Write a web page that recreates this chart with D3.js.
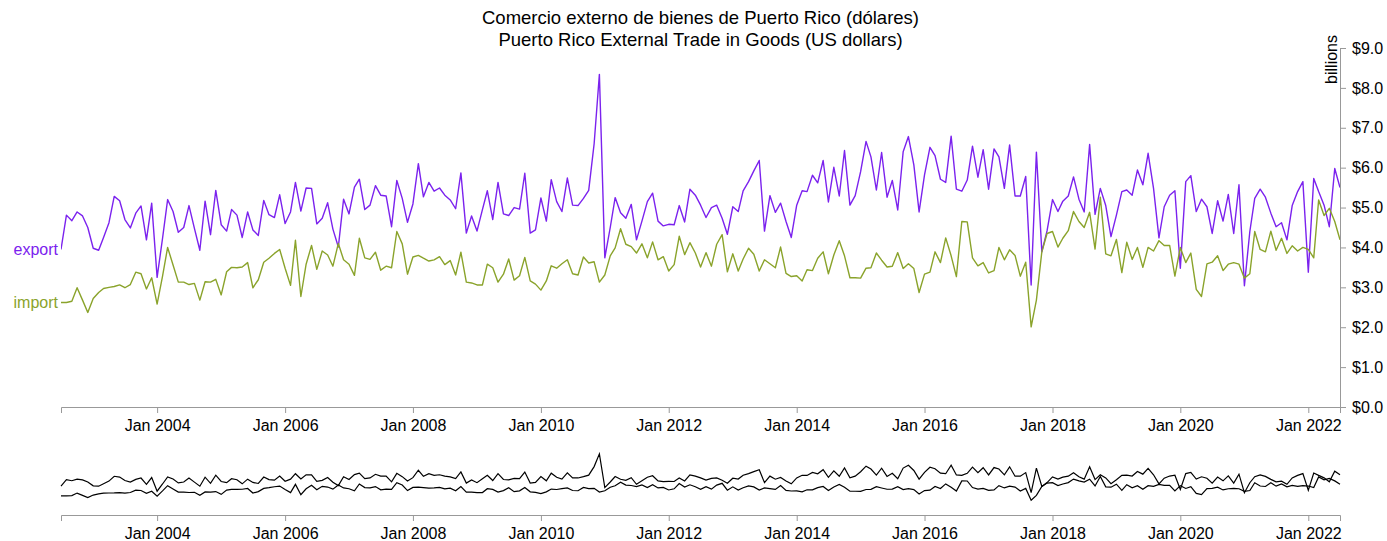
<!DOCTYPE html>
<html><head><meta charset="utf-8">
<script src="https://cdn.jsdelivr.net/npm/d3@7"></script>
<style>
body{margin:0;background:#fff;}
svg{display:block;font-family:Arial,"Liberation Sans",sans-serif;}
.axis path,.axis line{stroke:#999;}
.axis text{fill:#000;font-size:16px;}
</style></head><body>
<svg id="chart" width="1387" height="541"></svg>
<script>
const startMonth = "2002-07";
const exportValues = [
3.95,4.81,4.67,4.89,4.79,4.5,3.98,3.93,4.25,4.62,5.28,5.17,4.7,4.49,4.86,5.04,4.19,5.11,3.25,4.23,5.2,4.9,4.38,4.5,5.05,4.48,3.93,5.16,4.32,5.43,4.57,4.41,4.95,4.81,4.25,4.89,4.44,4.3,5.18,4.82,4.75,
5.32,4.6,4.89,5.63,4.91,5.49,5.48,4.59,4.73,5.12,4.46,4.01,5.21,4.84,5.51,5.71,4.95,5.06,5.55,5.31,5.29,4.52,5.68,5.23,4.63,5.09,6.1,5.27,5.63,5.41,5.49,5.31,5.19,4.97,5.87,4.36,4.79,4.41,4.95,
5.42,4.7,5.63,4.84,4.8,5.0,4.96,5.86,4.36,4.44,5.24,4.66,5.7,5.15,4.9,5.74,5.06,5.05,5.23,5.43,6.6,8.34,3.74,4.5,5.25,4.87,4.73,5.08,4.19,4.66,5.15,5.36,4.66,4.54,4.58,4.57,5.05,4.64,5.46,5.31,
5.06,4.75,5.0,5.06,4.73,4.33,5.02,4.9,5.42,5.65,5.92,6.18,4.41,5.3,4.88,5.11,4.65,4.25,5.06,5.42,5.4,5.81,5.62,6.18,5.14,6.01,5.29,6.43,5.06,5.3,5.9,6.66,6.27,5.44,6.38,5.26,5.68,4.94,6.4,
6.78,6.07,4.89,5.82,6.51,6.3,5.71,5.63,6.79,5.46,5.41,5.69,6.54,5.76,6.45,5.46,6.47,6.27,5.48,6.57,5.29,5.29,5.78,3.06,6.39,3.89,4.42,5.2,4.9,5.16,5.29,5.77,5.21,4.89,6.58,4.83,5.48,5.05,4.27,
4.81,5.4,5.44,5.31,5.94,5.57,6.36,5.48,4.24,5.02,5.31,5.42,3.48,5.65,5.8,4.9,5.21,5.02,4.35,5.17,4.66,5.33,4.35,5.57,3.04,4.4,5.23,5.46,5.26,4.86,4.52,4.62,4.19,5.05,5.4,5.65,3.38,5.73,5.4,5.06,4.52,5.98,5.5
];
const importValues = [
2.62,2.62,2.65,2.99,2.68,2.37,2.72,2.87,2.97,3.0,3.02,3.06,2.99,3.07,3.38,3.34,2.96,3.24,2.58,3.28,4.0,3.56,3.13,3.13,3.07,3.1,2.68,3.14,3.13,3.2,2.81,3.39,3.5,3.49,3.51,3.62,2.99,3.19,3.63,3.73,3.85,
3.95,3.48,3.05,4.18,2.77,3.58,4.05,3.45,3.91,3.81,3.53,4.1,3.69,3.58,3.3,4.23,3.74,3.7,3.88,3.43,3.53,3.49,4.4,4.09,3.33,3.76,3.8,3.73,3.66,3.69,3.77,3.57,3.67,3.31,3.88,3.13,3.11,3.06,3.06,
3.58,3.49,3.13,3.33,3.71,3.18,3.29,3.75,3.16,3.08,2.93,3.16,3.54,3.48,3.59,3.69,3.34,3.31,3.76,3.61,3.64,3.13,3.31,3.79,3.99,4.47,4.08,4.02,3.86,4.09,3.74,4.14,3.69,3.77,3.41,3.57,4.28,3.82,4.12,3.86,
3.51,3.87,3.53,4.08,4.32,3.39,3.84,3.41,3.71,3.98,3.83,3.41,3.69,3.59,3.49,4.01,3.35,3.27,3.29,3.16,3.44,3.42,3.73,3.89,3.34,3.81,4.17,3.79,3.24,3.24,3.23,3.48,3.49,3.86,3.68,3.51,3.53,3.87,3.47,
3.59,3.47,2.87,3.33,3.38,3.89,3.62,4.24,3.79,3.27,4.65,4.64,3.74,3.54,3.62,3.36,3.42,4.0,3.69,3.94,3.8,3.28,3.63,2.01,2.68,3.89,4.35,4.4,4.01,4.23,4.42,4.9,4.65,4.5,4.88,3.96,5.26,3.84,3.79,
4.2,3.37,4.13,3.7,4.0,3.5,4.0,3.91,4.17,4.05,4.05,3.28,4.0,3.62,3.86,2.95,2.77,3.59,3.63,3.79,3.42,3.58,3.62,3.58,3.23,3.34,4.4,3.95,3.89,4.41,3.93,4.23,3.85,4.04,3.91,4.0,3.95,3.74,5.19,4.8,4.98,4.65,4.19
];
const seriesNames = ["export", "import"];
const seriesColors = ["#7b22ee", "#8aa32b"];
const yTickValues = [0,1,2,3,4,5,6,7,8,9];
const titleLines = ["Comercio externo de bienes de Puerto Rico (dólares)", "Puerto Rico External Trade in Goods (US dollars)"];
const yUnitLabel = "billions";

const parseMonth = d3.timeParse("%Y-%m");
const startDate = parseMonth(startMonth);
const dates = exportValues.map((_, i) => d3.timeMonth.offset(startDate, i));
const series = [exportValues, importValues].map((vals, k) => ({
  name: seriesNames[k], color: seriesColors[k],
  values: vals.map((v, i) => ({date: dates[i], value: v}))
}));

const plotL = 61, plotR = 1340, plotT = 48, plotB = 407;
const ctxT = 449, ctxB = 515;

const svg = d3.select("#chart");
const x = d3.scaleTime().domain(d3.extent(dates)).range([plotL, plotR]);
const y = d3.scaleLinear().domain([0, 9]).range([plotB, plotT]);
const x2 = x.copy();
const y2 = y.copy().range([ctxB, ctxT]);

svg.append("defs").append("clipPath").attr("id", "clip")
  .append("rect").attr("x", plotL).attr("y", plotT - 40).attr("width", plotR - plotL).attr("height", plotB - plotT + 40);

const line = d3.line().x(d => x(d.date)).y(d => y(d.value));
const line2 = d3.line().x(d => x2(d.date)).y(d => y2(d.value));
const fmt = d3.timeFormat("%b %Y");

const title = svg.append("text").attr("text-anchor", "middle").attr("font-size", 18.5).attr("fill", "#000");
titleLines.forEach((t, i) => title.append("tspan").attr("x", (plotL + plotR) / 2).attr("y", 24 + i * 22).text(t));

const focus = svg.append("g");
focus.selectAll("path.line").data(series).join("path")
  .attr("class", "line").attr("clip-path", "url(#clip)")
  .attr("fill", "none").attr("stroke", d => d.color).attr("stroke-width", 1.4)
  .attr("stroke-linejoin", "round")
  .attr("d", d => line(d.values));

focus.selectAll("text.lab").data(series).join("text")
  .attr("class", "lab")
  .attr("x", plotL - 3).attr("y", d => y(d.values[0].value))
  .attr("dy", "0.35em").attr("text-anchor", "end")
  .attr("font-size", 16).attr("fill", d => d.color).text(d => d.name);

svg.append("g").attr("class", "axis").attr("transform", `translate(0,${plotB})`)
  .call(d3.axisBottom(x).ticks(d3.timeYear.every(2)).tickFormat(fmt).tickPadding(7));
const yAx = svg.append("g").attr("class", "axis").attr("transform", `translate(${plotR},0)`)
  .call(d3.axisRight(y).tickValues(yTickValues).tickFormat(d3.format("$.1f")).tickPadding(6));
svg.append("text").attr("transform", `translate(${plotR - 3},35) rotate(-90)`)
  .attr("text-anchor", "end").attr("font-size", 16).attr("fill", "#000").text(yUnitLabel);

const ctx = svg.append("g");
ctx.selectAll("path").data(series).join("path")
  .attr("fill", "none").attr("stroke", "#000").attr("stroke-width", 1.2)
  .attr("d", d => line2(d.values));
svg.append("g").attr("class", "axis").attr("transform", `translate(0,${ctxB})`)
  .call(d3.axisBottom(x2).ticks(d3.timeYear.every(2)).tickFormat(fmt).tickPadding(7));
</script>
</body></html>
